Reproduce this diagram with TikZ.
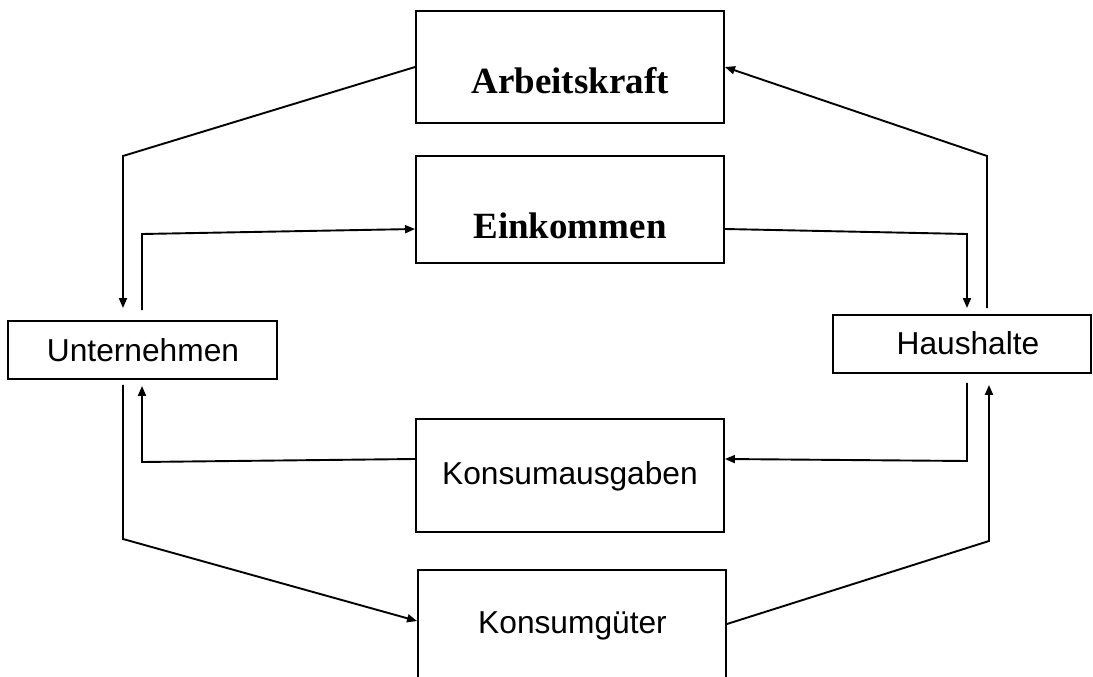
\documentclass[tikz,border=0pt]{standalone}
\usepackage{fontspec}
\setmainfont{Liberation Serif}
\setsansfont{Liberation Sans}
\usetikzlibrary{arrows.meta}
\tikzset{
  box/.style={draw, line width=1.9pt, rectangle, inner sep=0pt},
  serifbold/.style={font=\rmfamily\bfseries\fontsize{37}{44}\selectfont, anchor=base, inner sep=0pt},
  sanslabel/.style={font=\sffamily\fontsize{31.7}{38}\selectfont, anchor=base, inner sep=0pt},
  flow/.style={line width=1.9pt, -{Triangle[length=10pt,width=8pt]}},
}
\begin{document}
\begin{tikzpicture}[x=1pt,y=-1pt]
\useasboundingbox (0,0) rectangle (1093,677);
\clip (0,0) rectangle (1093,677);
% boxes
\node[box, minimum width=308pt, minimum height=112pt] (A) at (570,67) {};
\node[box, minimum width=308pt, minimum height=107pt] (E) at (570,209.5) {};
\node[box, minimum width=269pt, minimum height=58pt] (U) at (142.5,350) {};
\node[box, minimum width=258pt, minimum height=58pt] (H) at (962,344) {};
\node[box, minimum width=308pt, minimum height=113pt] (K) at (570,475.5) {};
\node[box, minimum width=308pt, minimum height=130pt] (G) at (572,635) {};
% texts
\node[serifbold] (tA) at (570,93) {Arbeitskraft};
\node[serifbold] (tE) at (570,238) {Einkommen};
\node[sanslabel] (tU) at (143,361) {Unternehmen};
\node[sanslabel] (tH) at (968,354) {Haushalte};
\node[sanslabel] (tK) at (570,484) {Konsumausgaben};
\node[sanslabel] (tG) at (572.5,633) {Konsumgüter};
% connectors
\draw[flow] (A.west) -- (123,156) -- ([xshift=-19.5pt,yshift=12pt]U.north);
\draw[flow] ([xshift=-0.5pt,yshift=10pt]U.north) -- (142,234) -- ([yshift=-19.5pt]E.west);
\draw[flow] ([yshift=-19.5pt]E.east) -- (967,234) -- ([xshift=5pt,yshift=6pt]H.north);
\draw[flow] ([xshift=25pt,yshift=6pt]H.north) -- (987,156) -- (A.east);
\draw[flow] ([xshift=5pt,yshift=-9pt]H.south) -- (967,461) -- ([yshift=16.5pt]K.east);
\draw[flow] ([yshift=16.5pt]K.west) -- (142,462) -- ([xshift=-0.5pt,yshift=-6pt]U.south);
\draw[flow] ([xshift=-19.5pt,yshift=-5pt]U.south) -- (123,539) -- ([yshift=14pt]G.west);
\draw[flow] ([yshift=11pt]G.east) -- (989,541) -- ([xshift=27pt,yshift=-11pt]H.south);
\end{tikzpicture}
\end{document}
